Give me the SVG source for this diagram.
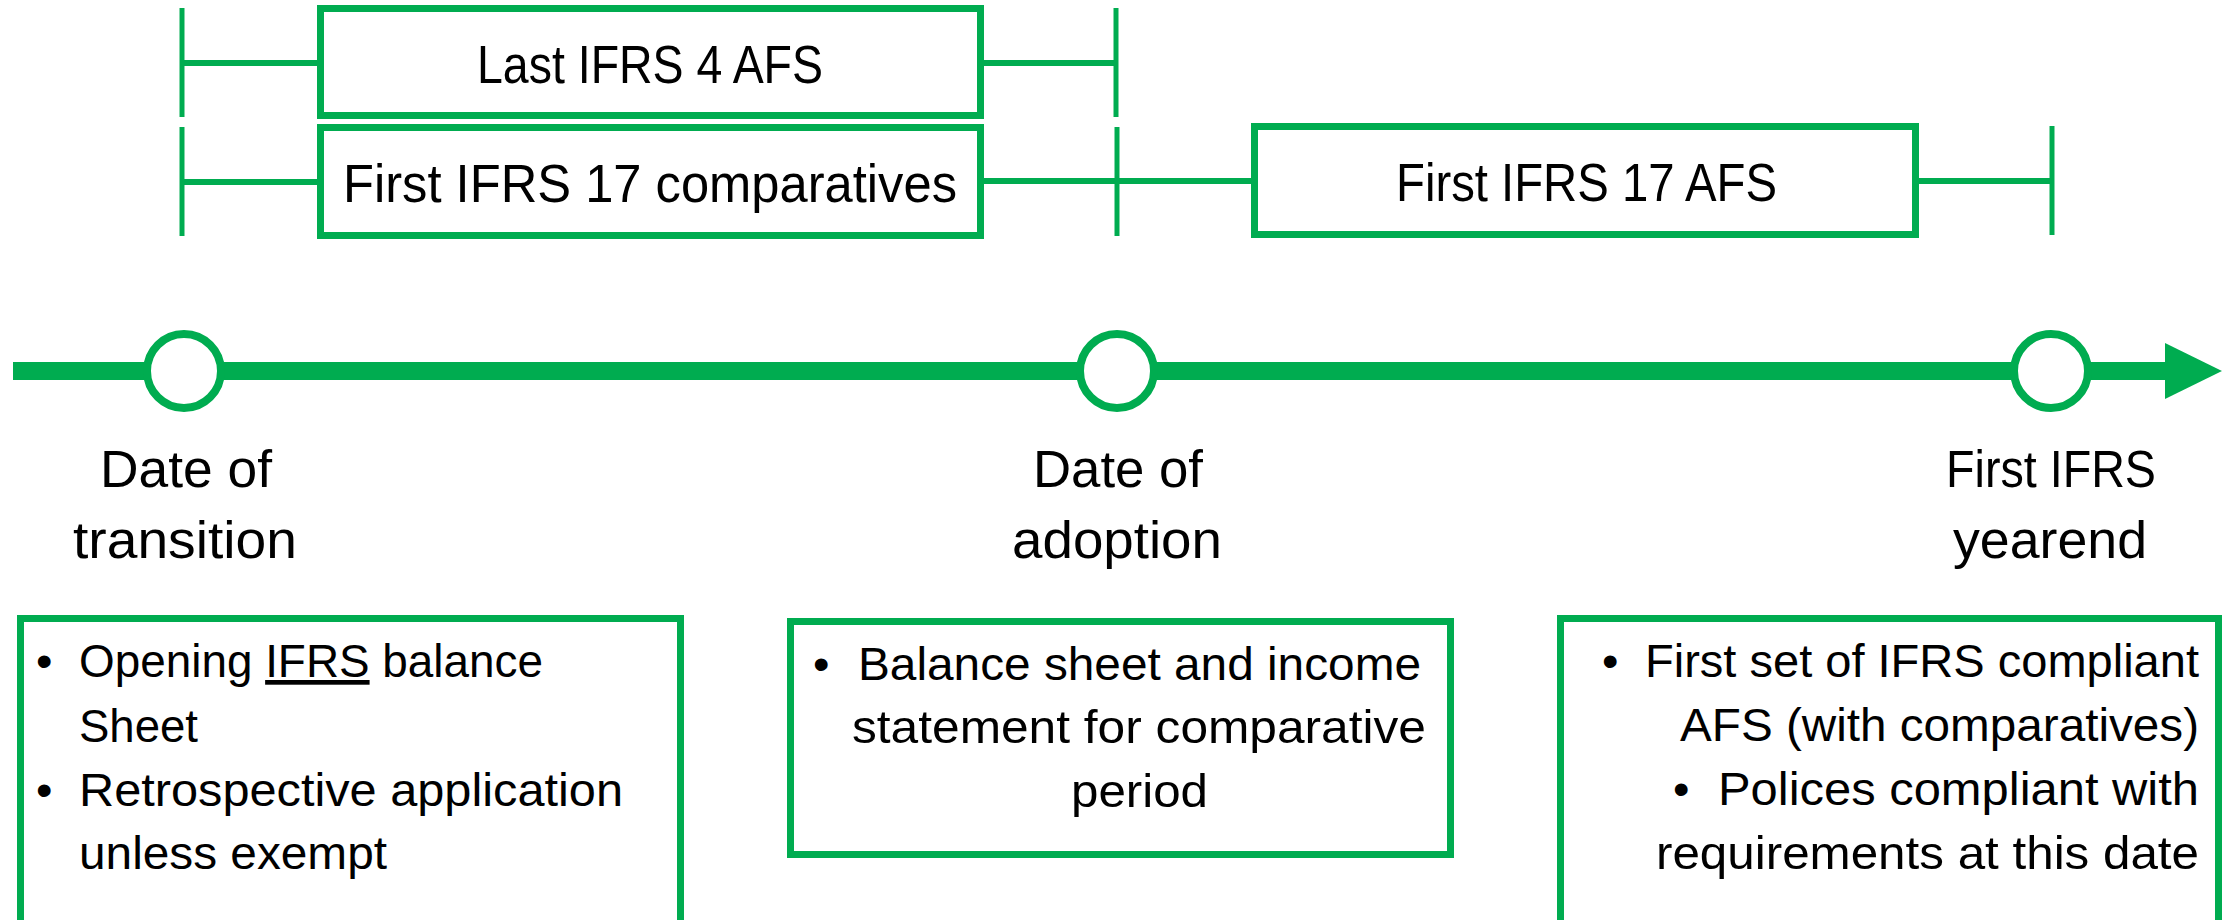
<svg xmlns="http://www.w3.org/2000/svg" width="2236" height="920" viewBox="0 0 2236 920">
<style>
.box{fill:#fff;stroke:#00AC50;stroke-width:7}
.ln{stroke:#00AC50;stroke-width:6;fill:none}
.tk{stroke:#00AC50;stroke-width:5;fill:none}
.axis{stroke:#00AC50;stroke-width:18;fill:none}
.dot{fill:#fff;stroke:#00AC50;stroke-width:8}
.lab{font-family:"Liberation Sans",Arial,sans-serif;font-size:53px;fill:#000}
.tl{font-family:"Liberation Sans",Arial,sans-serif;font-size:51px;fill:#000}
.bul{font-family:"Liberation Sans",Arial,sans-serif;font-size:47px;fill:#000}
</style>
<rect width="2236" height="920" fill="#fff"/>
<g id="connectors">
  <line class="ln" x1="182" y1="63" x2="320" y2="63"/>
  <line class="ln" x1="984" y1="63" x2="1116" y2="63"/>
  <line class="ln" x1="182" y1="182" x2="320" y2="182"/>
  <line class="ln" x1="984" y1="181" x2="1254" y2="181"/>
  <line class="ln" x1="1916" y1="181" x2="2052" y2="181"/>
  <line class="tk" x1="182" y1="8" x2="182" y2="117"/>
  <line class="tk" x1="1116" y1="8" x2="1116" y2="117"/>
  <line class="tk" x1="182" y1="127" x2="182" y2="236"/>
  <line class="tk" x1="1117" y1="127" x2="1117" y2="236"/>
  <line class="tk" x1="2052" y1="126" x2="2052" y2="235"/>
  <line class="axis" x1="13" y1="371" x2="2168" y2="371"/>
  <polygon points="2165,343 2222,371 2165,399" fill="#00AC50"/>
</g>
<g id="last-ifrs4">
  <rect class="box" x="320.5" y="8.5" width="660" height="107"/>
  <text class="lab" x="477" y="83" textLength="346" lengthAdjust="spacingAndGlyphs">Last IFRS 4 AFS</text>
</g>
<g id="first-ifrs17-comparatives">
  <rect class="box" x="320.5" y="127.5" width="660" height="108"/>
  <text class="lab" x="343" y="202" textLength="614" lengthAdjust="spacingAndGlyphs">First IFRS 17 comparatives</text>
</g>
<g id="first-ifrs17-afs">
  <rect class="box" x="1254.5" y="126.5" width="661" height="108"/>
  <text class="lab" x="1396" y="201" textLength="381" lengthAdjust="spacingAndGlyphs">First IFRS 17 AFS</text>
</g>
<g id="date-transition">
  <circle class="dot" cx="184" cy="371" r="37"/>
  <text class="tl" x="100" y="487" textLength="172" lengthAdjust="spacingAndGlyphs">Date of</text>
  <text class="tl" x="73" y="558" textLength="224" lengthAdjust="spacingAndGlyphs">transition</text>
</g>
<g id="date-adoption">
  <circle class="dot" cx="1117" cy="371" r="37"/>
  <text class="tl" x="1033" y="487" textLength="170" lengthAdjust="spacingAndGlyphs">Date of</text>
  <text class="tl" x="1012" y="558" textLength="210" lengthAdjust="spacingAndGlyphs">adoption</text>
</g>
<g id="first-yearend">
  <circle class="dot" cx="2051" cy="371" r="37"/>
  <text class="tl" x="1946" y="487" textLength="210" lengthAdjust="spacingAndGlyphs">First IFRS</text>
  <text class="tl" x="1953" y="558" textLength="194" lengthAdjust="spacingAndGlyphs">yearend</text>
</g>
<g id="box-transition">
  <rect class="box" x="20.5" y="618.5" width="660" height="330"/>
  <text class="bul" x="36" y="677">•</text>
  <text class="bul" x="79" y="677" textLength="464" lengthAdjust="spacingAndGlyphs">Opening <tspan text-decoration="underline">IFRS</tspan> balance</text>
  <text class="bul" x="79" y="742" textLength="119" lengthAdjust="spacingAndGlyphs">Sheet</text>
  <text class="bul" x="36" y="806">•</text>
  <text class="bul" x="79" y="806" textLength="544" lengthAdjust="spacingAndGlyphs">Retrospective application</text>
  <text class="bul" x="79" y="869" textLength="308" lengthAdjust="spacingAndGlyphs">unless exempt</text>
</g>
<g id="box-adoption">
  <rect class="box" x="790.5" y="621.5" width="660" height="233"/>
  <text class="bul" x="813" y="680">•</text>
  <text class="bul" x="858" y="680" textLength="563" lengthAdjust="spacingAndGlyphs">Balance sheet and income</text>
  <text class="bul" x="852" y="743" textLength="574" lengthAdjust="spacingAndGlyphs">statement for comparative</text>
  <text class="bul" x="1071" y="807" textLength="137" lengthAdjust="spacingAndGlyphs">period</text>
</g>
<g id="box-yearend">
  <rect class="box" x="1560.5" y="618.5" width="658" height="330"/>
  <text class="bul" x="1602" y="677">•</text>
  <text class="bul" x="1645" y="677" textLength="554" lengthAdjust="spacingAndGlyphs">First set of IFRS compliant</text>
  <text class="bul" x="1680" y="741" textLength="519" lengthAdjust="spacingAndGlyphs">AFS (with comparatives)</text>
  <text class="bul" x="1673" y="805">•</text>
  <text class="bul" x="1718" y="805" textLength="481" lengthAdjust="spacingAndGlyphs">Polices compliant with</text>
  <text class="bul" x="1656" y="869" textLength="543" lengthAdjust="spacingAndGlyphs">requirements at this date</text>
</g>
</svg>
